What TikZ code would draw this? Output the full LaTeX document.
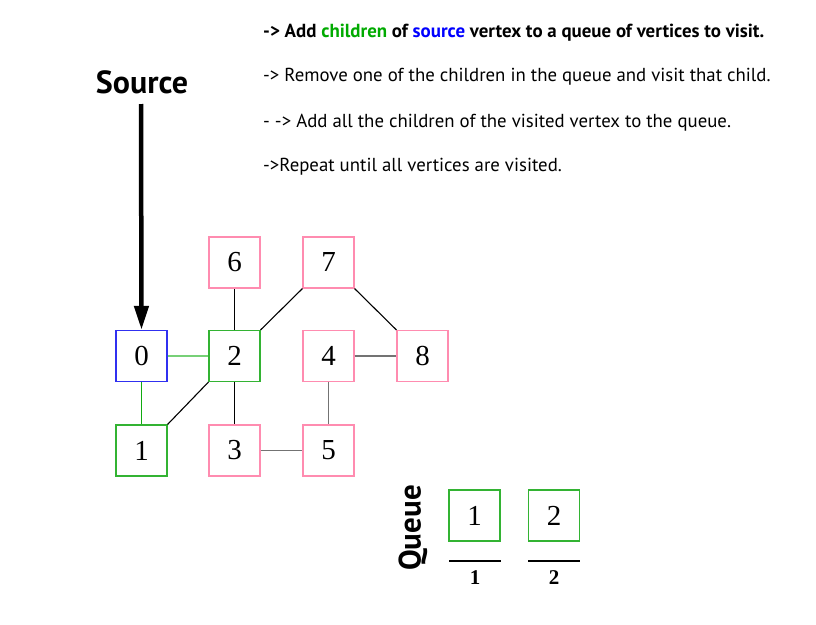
\documentclass[tikz,border=0pt]{standalone}
\usepackage{fontspec}
\newfontfamily\txtfont{PT Sans}
\newfontfamily\digfont{Liberation Serif}
\usetikzlibrary{arrows.meta}
\definecolor{bluebox}{HTML}{3030F0}
\definecolor{greenbox}{HTML}{33B333}
\definecolor{pinkbox}{HTML}{FF8CB0}
\definecolor{lightgreen}{HTML}{77D077}
\definecolor{darkgreen}{HTML}{11AA11}
\definecolor{txtgreen}{HTML}{00AA00}
\definecolor{txtblue}{HTML}{0000FF}
\tikzset{
  vbox/.style={draw, line width=1.2pt, minimum width=51pt, minimum height=51pt, inner sep=0pt, font=\digfont\fontsize{29}{29}\selectfont},
  srcbox/.style={vbox, draw=bluebox},
  visbox/.style={vbox, draw=greenbox},
  newbox/.style={vbox, draw=pinkbox},
  edge/.style={line width=1.1pt, black},
  grayedge/.style={line width=1.8pt, black!55},
  greenedge/.style={line width=1.5pt, darkgreen},
  lgreenedge/.style={line width=1.8pt, lightgreen},
  steptext/.style={anchor=west, font=\txtfont\fontsize{18.8}{19}\selectfont, inner sep=0pt},
}
\begin{document}
\begin{tikzpicture}[x=1pt,y=-1pt]
\useasboundingbox (0,0) rectangle (816,624);
% instructions
\node[steptext, font=\txtfont\fontsize{18.9}{19}\selectfont\bfseries] (t1) at (263,33) {-> Add \textcolor{txtgreen}{children} of \textcolor{txtblue}{source} vertex to a queue of vertices to visit.};
\node[steptext] (t2) at (263,77) {-> Remove one of the children in the queue and visit that child.};
\node[steptext] (t3) at (263,123) {- -> Add all the children of the visited vertex to the queue.};
\node[steptext] (t4) at (263,167) {->Repeat until all vertices are visited.};
% source
\node[font=\txtfont\fontsize{32}{32}\selectfont\bfseries] (src) at (142,82) {Source};
% vertices
\node[srcbox] (n0) at (141.5,356) {0};
\node[visbox] (n2) at (234.5,356) {2};
\node[visbox] (n1) at (141.5,450.5) {1};
\node[newbox] (n6) at (234.5,262.5) {6};
\node[newbox] (n7) at (328.5,262.5) {7};
\node[newbox] (n4) at (328.5,356) {4};
\node[newbox] (n8) at (422.5,356) {8};
\node[newbox] (n3) at (234.5,450.5) {3};
\node[newbox] (n5) at (328.5,450.5) {5};
\coordinate (arrtop) at (141,104);
\draw[line width=4.5pt, -{Triangle[length=24pt,width=14pt]}] (arrtop) -- (n0.north);
% edges
\draw[lgreenedge] (n0) -- (n2);
\draw[greenedge] (n0) -- (n1);
\draw[edge] (n2.south west) -- (n1.north east);
\draw[edge] (n2) -- (n6);
\draw[edge] (n2) -- (n3);
\draw[edge] (n2.north east) -- (n7.south west);
\draw[edge] (n7.south east) -- (n8.north west);
\draw[grayedge] (n4) -- (n8);
\draw[grayedge] (n4) -- (n5);
\draw[grayedge] (n3) -- (n5);
% queue
\node[font=\txtfont\fontsize{31}{31}\selectfont\bfseries, rotate=90] (qlabel) at (413,528) {Queue};
\node[visbox] (q1) at (474.5,515.5) {1};
\node[visbox] (q2) at (554,515.5) {2};
\coordinate (l1a) at (449,561);
\coordinate (l1b) at (501,561);
\coordinate (l2a) at (528,561);
\coordinate (l2b) at (580,561);
\draw[line width=1.2pt] (l1a) -- (l1b);
\draw[line width=1.2pt] (l2a) -- (l2b);
\node[font=\digfont\fontsize{21}{21}\selectfont\bfseries] (i1) at (475,578) {1};
\node[font=\digfont\fontsize{21}{21}\selectfont\bfseries] (i2) at (554,578) {2};
\end{tikzpicture}
\end{document}
